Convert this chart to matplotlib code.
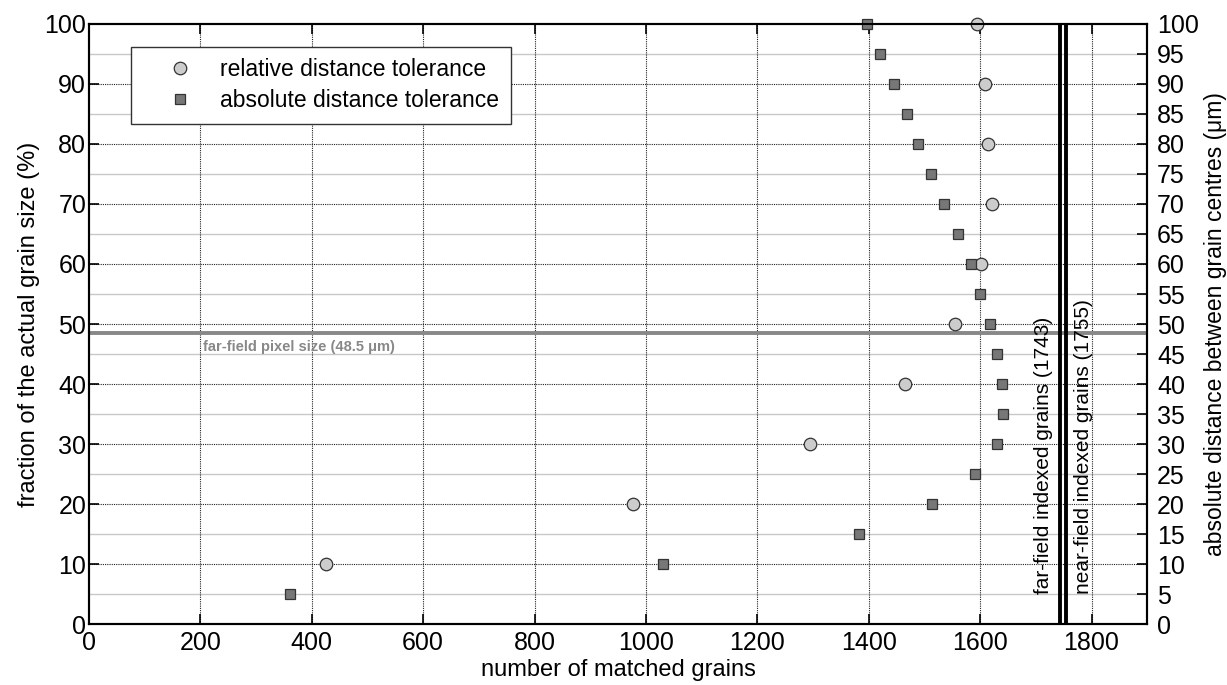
import matplotlib
matplotlib.use("Agg")
import matplotlib.pyplot as plt

plt.rcParams['font.family'] = ['Liberation Sans', 'DejaVu Sans']

# relative distance tolerance (% of grain size) vs number of matched grains
rel_pct = [10, 20, 30, 40, 50, 60, 70, 80, 90, 100]
rel_matched = [426, 977, 1295, 1465, 1555, 1601, 1622, 1614, 1608, 1595]

# absolute distance tolerance (um) vs number of matched grains
abs_um = [5, 10, 15, 20, 25, 30, 35, 40, 45, 50, 55, 60, 65, 70, 75, 80, 85, 90, 95, 100]
abs_matched = [361, 1031, 1383, 1514, 1590, 1631, 1641, 1639, 1630, 1617,
               1600, 1584, 1560, 1536, 1511, 1489, 1468, 1446, 1420, 1397]

pixel_size_um = 48.5
ff_indexed = 1743
nf_indexed = 1755

x_ticks = [0, 200, 400, 600, 800, 1000, 1200, 1400, 1600, 1800]
left_ticks = list(range(0, 101, 10))
right_ticks = list(range(0, 101, 5))

fig = plt.figure(figsize=(12.27, 6.85), dpi=100)
ax = fig.add_axes([0.0725, 0.089, 0.8625, 0.876])
ax2 = ax.twinx()

ax.set_xlim(0, 1900)
ax.set_ylim(0, 100)
ax2.set_ylim(0, 100)

# grids: light grey at every 5 (right axis), dark dotted at 10s and x majors
for v in right_ticks:
    if v % 10 != 0:
        ax.axhline(v, color='#c8c8c8', lw=1.0, zorder=0)
for v in left_ticks[1:-1]:
    ax.axhline(v, color='#222222', lw=0.8, ls=(0, (1, 1)), zorder=0.5)
for v in x_ticks[1:]:
    ax.axvline(v, color='#222222', lw=0.8, ls=(0, (1, 1)), zorder=0.5)

# reference lines
ax.axhline(pixel_size_um, color='#888888', lw=2.8, zorder=1)
ax.text(205, pixel_size_um - 1.2, 'far-field pixel size (48.5 \u03bcm)', color='#888888',
        fontsize=10.5, fontweight='bold', va='top', ha='left')
ax.axvline(ff_indexed, color='black', lw=2.8, zorder=1)
ax.axvline(nf_indexed, color='black', lw=2.8, zorder=1)
ax.text(ff_indexed - 12, 5, 'far-field indexed grains (1743)', rotation=90,
        ha='right', va='bottom', fontsize=15, color='black')
ax.text(nf_indexed + 13, 5, 'near-field indexed grains (1755)', rotation=90,
        ha='left', va='bottom', fontsize=15, color='black')

# data
ax.plot(rel_matched, rel_pct, 'o', ms=9, mfc='#cccccc', mec='#333333', mew=0.9,
        label='relative distance tolerance', zorder=3, clip_on=False)
ax.plot(abs_matched, abs_um, 's', ms=7, mfc='#777777', mec='#333333', mew=0.9,
        label='absolute distance tolerance', zorder=3, clip_on=False)

ax.set_xticks(x_ticks)
ax.set_yticks(left_ticks)
ax2.set_yticks(right_ticks)
ax.tick_params(axis='both', direction='in', length=7, width=1.2, labelsize=18,
               top=True, right=False)
ax.tick_params(axis='x', pad=5)
ax.tick_params(axis='y', pad=2)
ax2.tick_params(axis='y', direction='in', length=7, width=1.2, labelsize=18, pad=7)

ax.set_xlabel('number of matched grains', fontsize=17, labelpad=3)
ax.set_ylabel('fraction of the actual grain size (%)', fontsize=17, labelpad=3)
ax2.set_ylabel('absolute distance between grain centres (\u03bcm)', fontsize=16.5, labelpad=4)

for sp in ax.spines.values():
    sp.set_linewidth(1.5)
for sp in ax2.spines.values():
    sp.set_linewidth(1.5)

leg = ax.legend(loc='upper left', bbox_to_anchor=(0.0397, 0.962), borderaxespad=0,
                fontsize=16.5, frameon=True, fancybox=False, framealpha=1,
                edgecolor='#333333', handletextpad=0.1, borderpad=0.5,
                labelspacing=0.35, handlelength=3.3)
leg.get_frame().set_linewidth(1.0)
leg.set_zorder(10)

fig.savefig('out.png', dpi=100)
